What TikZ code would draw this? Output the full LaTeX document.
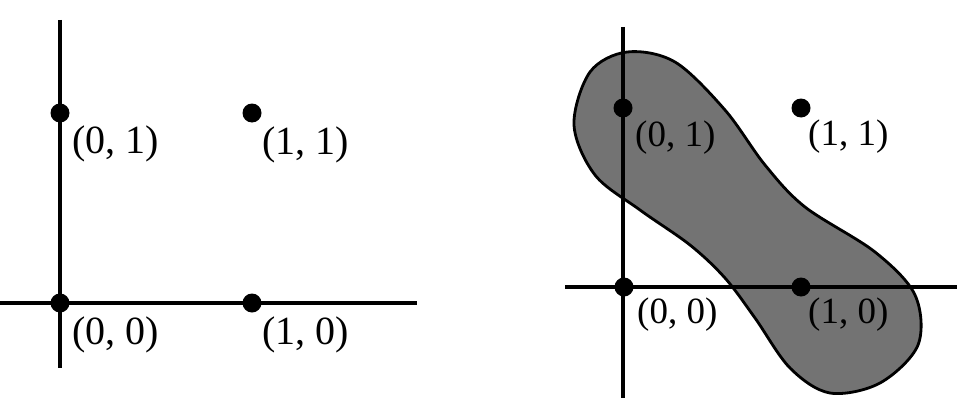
\documentclass[tikz,border=0pt]{standalone}
\usepackage{fontspec}
\setmainfont{Liberation Serif}
\usetikzlibrary{positioning}

\begin{document}
\begin{tikzpicture}[
  x=1pt, y=-1pt,
  axis/.style={line width=3.2pt},
  dot/.style={circle, fill=black, inner sep=0pt, minimum size=19pt},
  lbl/.style={anchor=north west, inner sep=0pt, font=\fontsize{40}{44}\selectfont},
  lblr/.style={anchor=north west, inner sep=0pt, font=\fontsize{37}{41}\selectfont},
  blob/.style={draw=black, line width=2.8pt, fill=black!55}
]
\useasboundingbox (0,0) rectangle (957,412);

% left panel
\coordinate (lytop) at (60,20);
\coordinate (lybot) at (60,368);
\coordinate (lxl) at (0,303);
\coordinate (lxr) at (417,303);
\draw[axis] (lytop) -- (lybot);
\draw[axis] (lxl) -- (lxr);
\node[dot] (l01) at (60,113) {};
\node[dot] (l11) at (252,113) {};
\node[dot] (l00) at (60,303) {};
\node[dot] (l10) at (252,303) {};
\node[lbl] (t01) at ([shift={(12,13)}]l01.center) {(0, 1)};
\node[lbl] (t11) at ([shift={(10,14)}]l11.center) {(1, 1)};
\node[lbl] (t00) at ([shift={(12,14)}]l00.center) {(0, 0)};
\node[lbl] (t10) at ([shift={(10,14)}]l10.center) {(1, 0)};

% right panel
\draw[blob] plot[smooth cycle, tension=0.55] coordinates {
  (627,52) (675,62) (725,110) (765,165) (805,207) (875,252) (915,295)
  (918,345) (880,383) (830,393) (790,368) (755,318) (725,278) (690,245)
  (640,210) (595,175) (574,125) (590,72)};
\coordinate (rytop) at (623,27);
\coordinate (rybot) at (623,398);
\coordinate (rxl) at (565,287);
\coordinate (rxr) at (957,287);
\draw[axis] (rytop) -- (rybot);
\draw[axis] (rxl) -- (rxr);
\node[dot] (r01) at (623,108) {};
\node[dot] (r11) at (801,108) {};
\node[dot] (r00) at (624,287) {};
\node[dot] (r10) at (801,287) {};
\node[lblr] (u01) at ([shift={(12,13)}]r01.center) {(0, 1)};
\node[lblr] (u11) at ([shift={(7,12)}]r11.center) {(1, 1)};
\node[lblr] (u00) at ([shift={(13,11)}]r00.center) {(0, 0)};
\node[lblr] (u10) at ([shift={(7,11)}]r10.center) {(1, 0)};
\end{tikzpicture}
\end{document}
